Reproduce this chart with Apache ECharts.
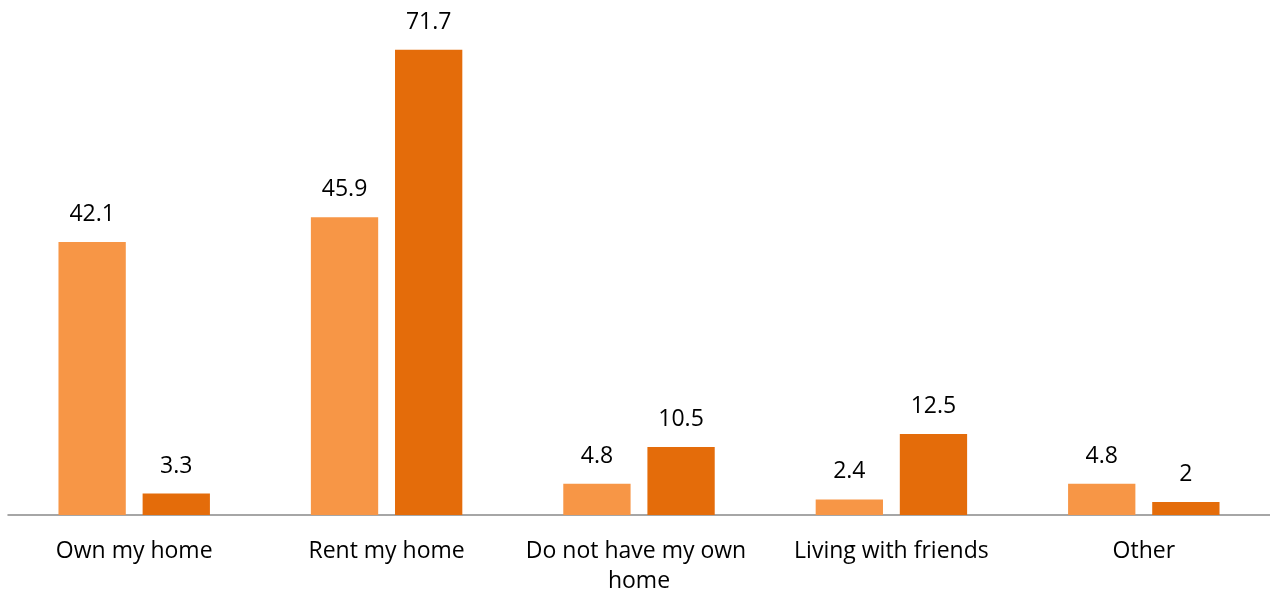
<!DOCTYPE html>
<html lang="en">
<head>
    <meta charset="UTF-8">
    <title>Housing status</title>
    <style type="text/css">
        *{
            margin: 0;
            padding: 0;
        }
        #main{
            width: 1270px;
            height: 594px;
            position: absolute;
            background: #ffffff;
        }
    </style>
</head>
<body>
    <div id="main"></div>
    <script src="https://cdn.jsdelivr.net/npm/echarts@6/dist/echarts.min.js"></script>
    <script type="text/javascript">
        var myChart = echarts.init(document.getElementById('main'));

        // categories and values
        var categories = ['Own my home', 'Rent my home', 'Do not have my own home', 'Living with friends', 'Other'];
        var seriesA = [42.1, 45.9, 4.8, 2.4, 4.8];
        var seriesB = [3.3, 71.7, 10.5, 12.5, 2];

        var labelStyle = {
            show: true,
            position: 'top',
            distance: 16,
            fontFamily: 'Open Sans',
            fontSize: 23,
            color: '#000000'
        };

        var option = {
            animation: false,
            grid: {
                left: 8,
                right: 0,
                top: -4,
                bottom: 79,
                outerBoundsMode: 'none',
                containLabel: false
            },
            xAxis: {
                type: 'category',
                data: categories,
                axisLine: {
                    lineStyle: {
                        color: '#898989',
                        width: 1.5
                    }
                },
                axisTick: { show: false },
                axisLabel: {
                    interval: 0,
                    margin: 21,
                    width: 245,
                    overflow: 'break',
                    lineHeight: 30,
                    fontFamily: 'Open Sans',
                    fontSize: 23,
                    color: '#000000'
                }
            },
            yAxis: {
                type: 'value',
                min: 0,
                max: 80,
                show: false,
                splitLine: { show: false }
            },
            series: [
                {
                    type: 'bar',
                    data: seriesA,
                    barGap: '25%',
                    barCategoryGap: '40%',
                    itemStyle: { color: '#F79646' },
                    label: labelStyle
                },
                {
                    type: 'bar',
                    data: seriesB,
                    itemStyle: { color: '#E46C0A' },
                    label: labelStyle
                }
            ]
        };

        myChart.setOption(option);
    </script>
</body>
</html>
